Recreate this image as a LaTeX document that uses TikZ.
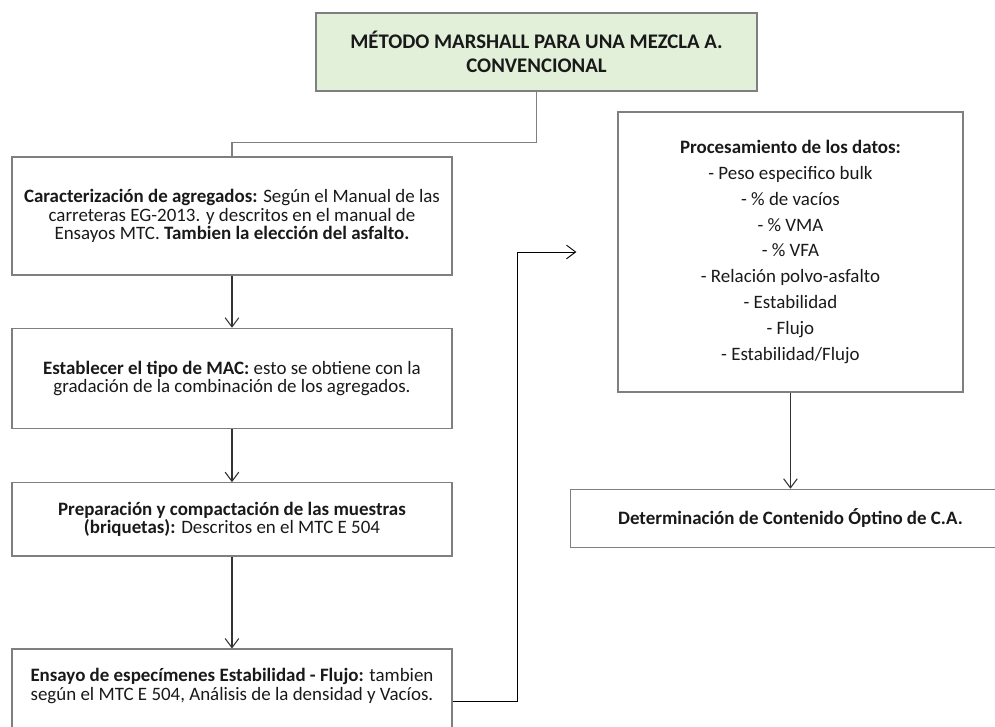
\documentclass[tikz,border=0pt]{standalone}
\usepackage{fontspec}
\setmainfont{Carlito}
\usetikzlibrary{positioning,arrows.meta}
\definecolor{boxgray}{HTML}{7F7F7F}
\definecolor{titlegreen}{HTML}{E2EFD9}

\begin{document}
\begin{tikzpicture}[
  font=\fontsize{12.5}{12.4}\selectfont,
  >=Straight Barb,
  box/.style={draw=boxgray, line width=0.9pt, align=center, minimum width=290.4pt, inner sep=4pt, text=black!90},
  titlebox/.style={box, fill=titlegreen, minimum width=291pt, minimum height=51.5pt, font=\fontsize{13.7}{15.8}\selectfont\bfseries},
  listbox/.style={box, minimum width=227.7pt, minimum height=184.8pt, font=\fontsize{12.5}{17}\selectfont},
  arrow/.style={-{Straight Barb[length=6pt,width=9pt]}, draw=black!80, line width=0.7pt},
  link/.style={draw=boxgray, line width=0.9pt},
  feed/.style={-{Straight Barb[length=6pt,width=9pt]}, draw=black, line width=0.6pt},
  node distance=34.3pt
]
\useasboundingbox (0,0) rectangle (656.7pt,-479.8pt);

% Title
\node[titlebox] (title) at (354.1pt,-34.3pt) {MÉTODO MARSHALL PARA UNA MEZCLA A.\\CONVENCIONAL};

% Left column
\node[box, minimum height=77.9pt] (agregados) at (153.1pt,-142.6pt)
  {\textbf{Caracterización de agregados:} Según el Manual de las\\carreteras EG-2013. y descritos en el manual de\\Ensayos MTC. \textbf{Tambien la elección del asfalto.}};
\node[box, minimum height=66pt, below=34.3pt of agregados] (tipomac)
  {\textbf{Establecer el tipo de MAC:} esto se obtiene con la\\gradación de la combinación de los agregados.};
\node[box, minimum height=48.2pt, below=35pt of tipomac] (briquetas)
  {\textbf{Preparación y compactación de las muestras}\\\textbf{(briquetas):} Descritos en el MTC E 504};
\node[box, minimum height=56pt, below=60.7pt of briquetas, text depth=10pt] (ensayo)
  {\textbf{Ensayo de especímenes Estabilidad - Flujo:} tambien\\según el MTC E 504, Análisis de la densidad y Vacíos.};

% Right column
\node[listbox] (datos) at (521.7pt,-166.3pt)
  {\textbf{Procesamiento de los datos:}\\- Peso especifico bulk\\- \% de vacíos\\- \% VMA\\- \% VFA\\- Relación polvo-asfalto\\- Estabilidad\\- Flujo\\- Estabilidad/Flujo};
\node[box, minimum height=38.3pt, below=63.4pt of datos] (optimo)
  {\textbf{Determinación de Contenido Óptino de C.A.}};

\coordinate (datosin) at ([xshift=-27pt]datos.west);

% Connectors
\draw[link] (title.south) -- ++(0,-33.7pt) -| (agregados.north);
\draw[arrow] (agregados.south) -- (tipomac.north);
\draw[arrow] (tipomac.south) -- (briquetas.north);
\draw[arrow] (briquetas.south) -- (ensayo.north);
\draw[feed] ([yshift=-6.3pt]ensayo.east) -- ++(42.9pt,0) |- (datosin);
\draw[arrow] (datos.south) -- (optimo.north);

\end{tikzpicture}
\end{document}
